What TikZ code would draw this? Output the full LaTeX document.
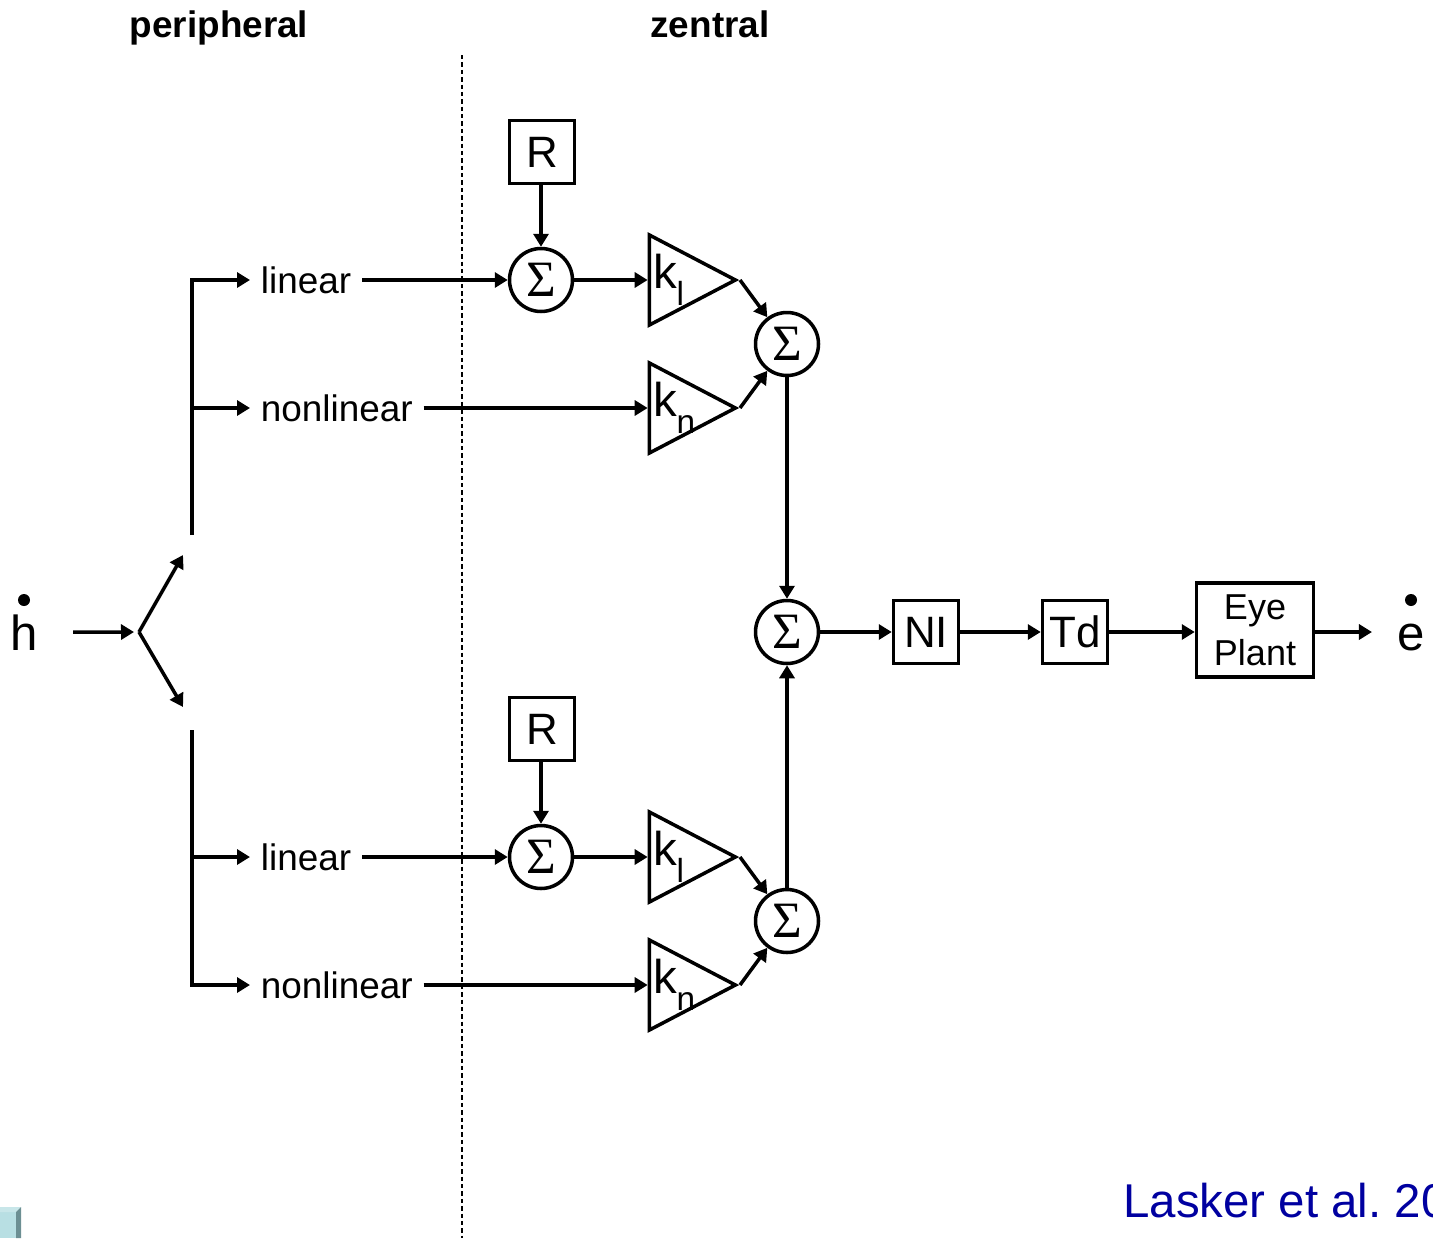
\documentclass[tikz,border=0pt]{standalone}
\usepackage{fontspec}
\setmainfont{Liberation Sans}
\newfontfamily\sigmafont{Liberation Serif}
\usetikzlibrary{arrows.meta, positioning, shapes.geometric}
\definecolor{citeblue}{RGB}{0,0,160}
\definecolor{tilefront}{RGB}{184,223,227}
\definecolor{tiletop}{RGB}{200,230,233}
\definecolor{tileside}{RGB}{108,143,147}
\tikzset{block/.style={rectangle,draw,line width=2pt,inner sep=0pt,minimum width=1.3cm,minimum height=1.26cm,font=\fontsize{25}{28}\selectfont},
sumnode/.style={circle,draw,line width=2pt,inner sep=0pt,minimum size=1.26cm,font=\sigmafont\fontsize{29}{30}\selectfont},
gain/.style={isosceles triangle,isosceles triangle stretches,shape border rotate=0,draw,line width=2pt,inner sep=0pt,minimum width=1.8cm,minimum height=1.72cm},
gaintext/.style={anchor=west,inner sep=0pt,font=\fontsize{27}{30}\selectfont},
branch/.style={inner xsep=6pt,inner ysep=0pt,font=\fontsize{21}{25}\selectfont},
heading/.style={anchor=base,font=\bfseries\fontsize{21}{25}\selectfont},
line/.style={-{Triangle[length=2.6mm,width=3mm]},line width=2pt}}
\newcommand{\subl}[1]{\raisebox{-0.35em}{\fontsize{19}{19}\selectfont #1}}

\begin{document}
\begin{tikzpicture}[x=0.02cm,y=-0.02cm]
\clip (0,0) rectangle (1433,1238);
\node[heading] (peri) at (219,37) {peripheral};
\node[heading] (zent) at (710,37) {zentral};
\draw[line width=0.8pt,dash pattern=on 2.5pt off 1.7pt] (462,55) -- (462,1238);
% input and fork
\node[anchor=base,inner sep=0pt,font=\fontsize{28}{30}\selectfont] (h) at (24,650) {h};
\fill (24,600) circle (6);
\coordinate (split) at (139,632);
\coordinate (up end) at (183,555);
\coordinate (down end) at (183,707);
\draw[line,shorten <=0.7cm,shorten >=0.1cm] (h.east) -- (split);
\draw[line] (split) -- (up end);
\draw[line] (split) -- (down end);
\coordinate (top fork) at (192,535);
\coordinate (bot fork) at (192,730);
\node[branch,anchor=west] (lin1) at (250,280) {linear};
\node[branch,anchor=west] (nlin1) at (250,408) {nonlinear};
\node[branch,anchor=west] (lin2) at (250,857) {linear};
\node[branch,anchor=west] (nlin2) at (250,985) {nonlinear};
\draw[line] (top fork) |- (lin1);
\draw[line] (192,408) -- (nlin1);
\draw[line] (bot fork) |- (nlin2);
\draw[line] (192,857) -- (lin2);
% upper channel
\node[block] (r1) at (542,152) {R};
\node[sumnode] (s1) at (541,280) {Σ};
\node[gain,anchor=apex] (kl1) at (740,280) {};
\node[gaintext] at ([xshift=0.1cm]kl1.west) {k\subl{l}};
\node[gain,anchor=apex] (kn1) at (740,408) {};
\node[gaintext] at ([xshift=0.1cm]kn1.west) {k\subl{n}};
\node[sumnode] (s2) at (787,344) {Σ};
\draw[line] (r1.south -| s1.north) -- (s1.north);
\draw[line] (lin1) -- (s1);
\draw[line] (s1.east) -- (kl1.west);
\draw[line] (nlin1) -- (kn1.west);
\draw[line] (kl1.apex) -- (s2);
\draw[line] (kn1.apex) -- (s2);
% lower channel
\node[block] (r2) at (542,729) {R};
\node[sumnode] (s4) at (541,857) {Σ};
\node[gain,anchor=apex] (kl2) at (740,857) {};
\node[gaintext] at ([xshift=0.1cm]kl2.west) {k\subl{l}};
\node[gain,anchor=apex] (kn2) at (740,985) {};
\node[gaintext] at ([xshift=0.1cm]kn2.west) {k\subl{n}};
\node[sumnode] (s5) at (787,921) {Σ};
\draw[line] (r2.south -| s4.north) -- (s4.north);
\draw[line] (lin2) -- (s4);
\draw[line] (s4.east) -- (kl2.west);
\draw[line] (nlin2) -- (kn2.west);
\draw[line] (kl2.apex) -- (s5);
\draw[line] (kn2.apex) -- (s5);
% output chain
\node[sumnode] (s3) at (787,632) {Σ};
\node[block] (ni) at (926,632) {NI};
\node[block] (td) at (1075,632) {Td};
\node[block,minimum width=2.34cm,minimum height=1.88cm,align=center,font=\fontsize{20.5}{26}\selectfont] (plant) at (1255,630) {Eye\\Plant};
\node[anchor=base,inner sep=0pt,font=\fontsize{28}{30}\selectfont] (e) at (1411,650) {e};
\fill (1411,600) circle (6);
\draw[line] (s2) -- (s3);
\draw[line] (s5) -- (s3);
\draw[line] (s3) -- (ni);
\draw[line] (ni) -- (td);
\draw[line] (td.east) -- (td.east -| plant.west);
\draw[line,shorten >=0.5cm] (td.east -| plant.east) -- (td.east -| e.west);
% citation and corner tile
\node[anchor=base west,inner sep=0pt,text=citeblue,font=\fontsize{27}{30}\selectfont] (cite) at (1123,1217) {Lasker et al.\ 20};
\fill[tilefront] (0,1212) rectangle (16,1238);
\fill[tiletop] (0,1207) -- (21,1207) -- (16,1212) -- (0,1212) -- cycle;
\fill[tileside] (16,1212) -- (21,1207) -- (21,1238) -- (16,1238) -- cycle;
\end{tikzpicture}
\end{document}
